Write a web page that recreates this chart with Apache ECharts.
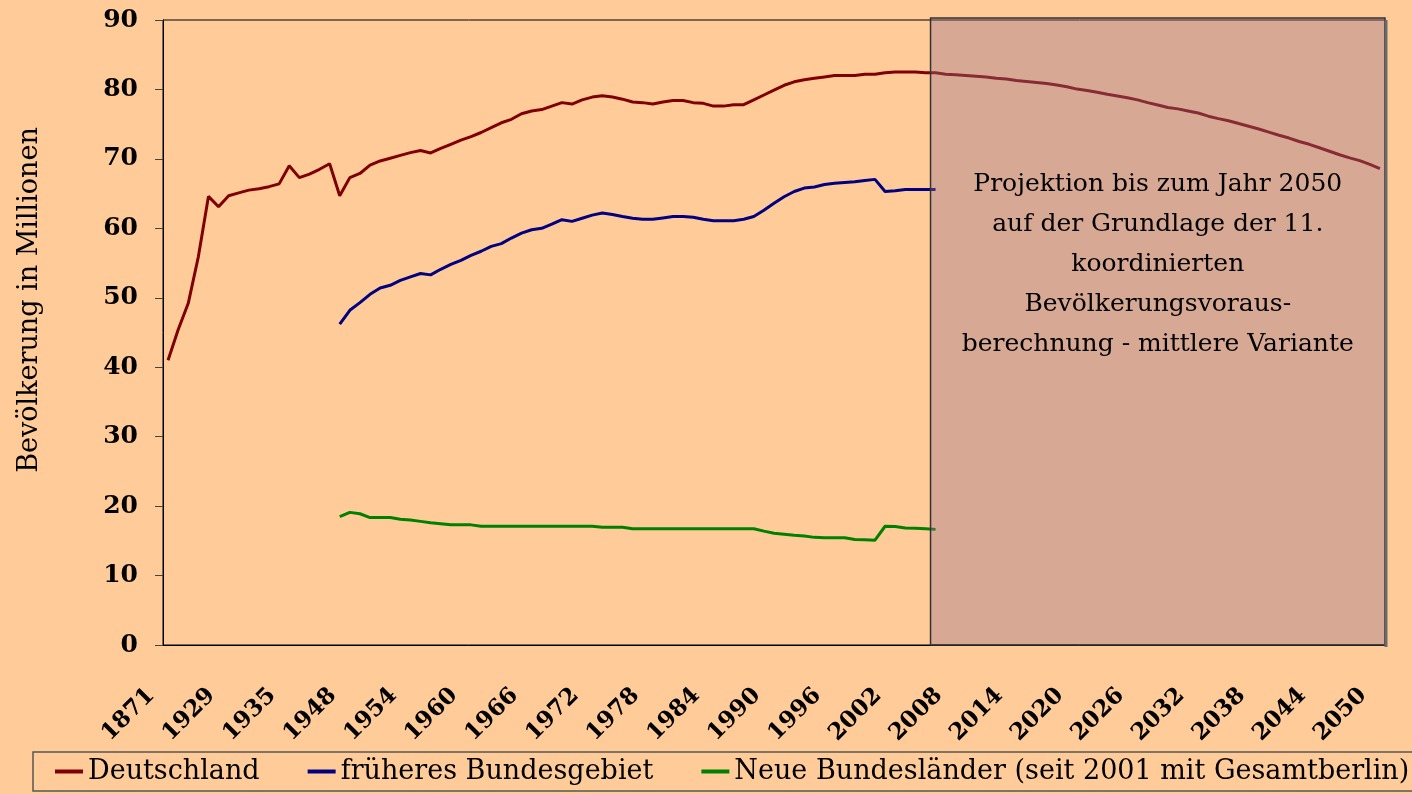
<!DOCTYPE html>
<html>
<head>
<meta charset="utf-8">
<script src="https://cdn.jsdelivr.net/npm/echarts@6/dist/echarts.min.js"></script>
<style>
html,body{margin:0;padding:0;background:#FFCC99;}
#c{width:1412px;height:794px;}
</style>
</head>
<body>
<div id="c"></div>
<script>
const years = ['1871','1880','1890','1900','1910','1925','1929','1930','1931','1932','1933','1934','1935','1936','1937','1938','1939','1946',
'1948','1949','1950','1951','1952','1953','1954','1955','1956','1957','1958','1959','1960','1961','1962','1963','1964','1965','1966','1967','1968','1969',
'1970','1971','1972','1973','1974','1975','1976','1977','1978','1979','1980','1981','1982','1983','1984','1985','1986','1987','1988','1989',
'1990','1991','1992','1993','1994','1995','1996','1997','1998','1999','2000','2001','2002','2003','2004','2005','2006','2007','2008','2009',
'2010','2011','2012','2013','2014','2015','2016','2017','2018','2019','2020','2021','2022','2023','2024','2025','2026','2027','2028','2029',
'2030','2031','2032','2033','2034','2035','2036','2037','2038','2039','2040','2041','2042','2043','2044','2045','2046','2047','2048','2049','2050'];

const deutschland = [41.0,45.4,49.2,55.9,64.6,63.1,64.7,65.1,65.5,65.7,66.0,66.4,69.0,67.3,67.8,68.5,69.3,64.7,
67.3,67.9,69.1,69.7,70.1,70.5,70.9,71.2,70.85,71.5,72.1,72.7,73.2,73.8,74.5,75.2,75.7,76.5,76.9,77.1,77.6,78.1,
77.9,78.5,78.9,79.1,78.9,78.6,78.2,78.1,77.9,78.2,78.4,78.4,78.1,78.0,77.6,77.6,77.8,77.8,78.5,79.2,
79.9,80.6,81.1,81.4,81.6,81.8,82.0,82.0,82.0,82.2,82.2,82.4,82.5,82.5,82.5,82.4,82.4,82.2,82.1,82.0,
81.9,81.8,81.6,81.5,81.3,81.15,81.0,80.85,80.65,80.4,80.05,79.85,79.6,79.3,79.05,78.8,78.5,78.1,77.75,77.4,
77.2,76.9,76.6,76.15,75.8,75.5,75.1,74.7,74.3,73.85,73.4,73.0,72.5,72.1,71.6,71.1,70.6,70.15,69.75,69.2,68.6];

const fruehere = [null,null,null,null,null,null,null,null,null,null,null,null,null,null,null,null,null,46.2,
48.2,49.3,50.5,51.4,51.8,52.5,53.0,53.5,53.3,54.1,54.8,55.4,56.1,56.7,57.4,57.8,58.6,59.3,59.8,60.0,60.6,61.25,
61.0,61.45,61.9,62.2,62.0,61.7,61.45,61.3,61.3,61.5,61.7,61.7,61.6,61.3,61.1,61.1,61.1,61.3,61.7,62.6,
63.6,64.55,65.3,65.8,65.95,66.3,66.5,66.6,66.7,66.9,67.05,65.3,65.4,65.6,65.6,65.6,65.6];

const neue = [null,null,null,null,null,null,null,null,null,null,null,null,null,null,null,null,null,18.5,
19.1,18.9,18.35,18.35,18.35,18.1,18.0,17.8,17.6,17.45,17.3,17.3,17.3,17.1,17.1,17.1,17.1,17.1,17.1,17.1,17.1,17.1,
17.1,17.1,17.1,16.95,16.95,16.95,16.75,16.75,16.75,16.75,16.75,16.75,16.75,16.75,16.75,16.75,16.75,16.75,16.75,16.4,
16.1,15.95,15.8,15.7,15.5,15.45,15.45,15.45,15.2,15.15,15.1,17.1,17.05,16.85,16.8,16.75,16.65];

const yTicks = [0,10,20,30,40,50,60,70,80,90];
const seriesNames = ['Deutschland','früheres Bundesgebiet','Neue Bundesländer (seit 2001 mit Gesamtberlin)'];
const projectionStart = '2006';
const projectionText = 'Projektion bis zum Jahr 2050\nauf der Grundlage der 11.\nkoordinierten\nBevölkerungsvoraus-\nberechnung - mittlere Variante';
const yTitle = 'Bevölkerung in Millionen';

const serif = "'DejaVu Serif', 'Liberation Serif', serif";
const chart = echarts.init(document.getElementById('c'), null, {renderer:'canvas'});

chart.setOption({
  backgroundColor: '#FFCC99',
  animation: false,
  grid: {left:163, right:27, top:20, bottom:149, show:true, borderColor:'#000', borderWidth:1, backgroundColor:'transparent'},
  legend: {
    left: 33, top: 752, width: 1500,
    icon: 'rect', itemWidth: 28, itemHeight: 4, itemGap: 48, itemStyle:{borderWidth:0},
    padding: [6, 30, 6, 22],
    borderColor: '#555', borderWidth: 1.5,
    textStyle: {fontFamily: serif, fontSize: 27, color:'#000'},
    data: seriesNames
  },
  xAxis: {
    type:'category', data: years, boundaryGap: true,
    axisLine:{lineStyle:{color:'#000', width:1}},
    axisTick:{interval:0, length:8, lineStyle:{color:'#444'}},
    axisLabel:{interval:5, rotate:45, margin:30, padding:[0,24,0,0], fontFamily: serif, fontWeight:'bold', fontSize:23, color:'#000'}
  },
  yAxis: {
    type:'value', min:0, max:90, interval:10,
    axisLine:{show:true, lineStyle:{color:'#000', width:1}},
    axisTick:{show:true, length:8, lineStyle:{color:'#444'}},
    splitLine:{show:false},
    axisLabel:{margin:25, fontFamily: serif, fontWeight:'bold', fontSize:25, color:'#000',
      formatter: v => yTicks.includes(v) ? String(v) : ''}
  },
  series: [
    {name: seriesNames[0], type:'line', data: deutschland, showSymbol:false, symbol:'none', lineStyle:{color:'#800000', width:3}, itemStyle:{color:'#800000'}, z:3},
    {name: seriesNames[1], type:'line', data: fruehere, showSymbol:false, symbol:'none', lineStyle:{color:'#000080', width:3}, itemStyle:{color:'#000080'}, z:3},
    {name: seriesNames[2], type:'line', data: neue, showSymbol:false, symbol:'none', lineStyle:{color:'#008000', width:3}, itemStyle:{color:'#008000'}, z:3}
  ]
});

const px = v => chart.convertToPixel({xAxisIndex:0}, v);
const band = px(years[1]) - px(years[0]);
const boxLeft = px(projectionStart) - band/2;
const boxRight = px(years[years.length-1]) + band/2;
const boxTop = chart.convertToPixel({yAxisIndex:0}, 90) - 2;
const boxBottom = chart.convertToPixel({yAxisIndex:0}, 0);

chart.setOption({
  graphic: [
    {type:'rect', z:100, shape:{x:boxLeft, y:boxTop, width:boxRight-boxLeft, height:boxBottom-boxTop},
     style:{fill:'rgba(150,112,140,0.38)', stroke:'#333', lineWidth:1.5}},
    {type:'line', z:100, shape:{x1:boxRight+1, y1:boxTop+2, x2:boxRight+1, y2:boxBottom+2},
     style:{stroke:'#6a6a6a', lineWidth:3}},
    {type:'text', z:101, x:(boxLeft+boxRight)/2, y:264,
     style:{text: projectionText, fontFamily: serif, fontSize:25, lineHeight:40, fill:'#000', align:'center', verticalAlign:'middle'}},
    {type:'text', z:101, x:30, y:300, rotation: Math.PI/2,
     style:{text: yTitle, fontFamily: serif, fontSize:27, fill:'#000', align:'center', verticalAlign:'middle'}}
  ]
});
</script>
</body>
</html>
